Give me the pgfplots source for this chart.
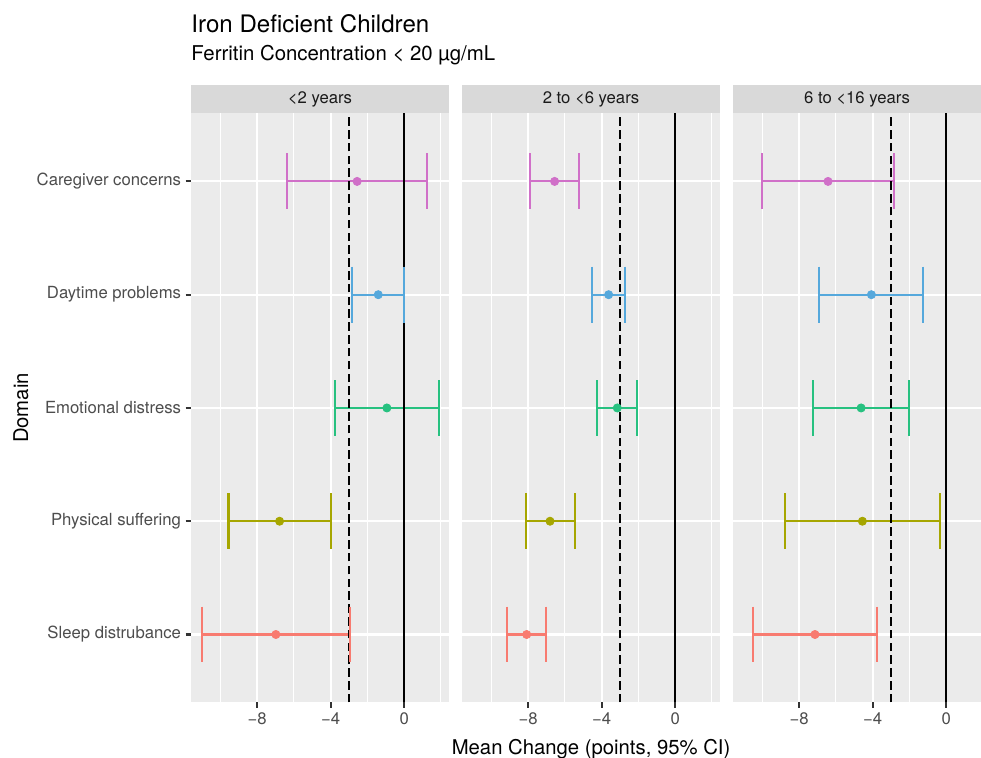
\documentclass[border=0pt]{standalone}
\usepackage{pgfplots}
\pgfplotsset{compat=1.18}
\usepackage{fontspec}
\setmainfont{TeX Gyre Heros}
\definecolor{panelbg}{HTML}{EBEBEB}
\definecolor{stripbg}{HTML}{D9D9D9}
\definecolor{striptext}{HTML}{1A1A1A}
\definecolor{ticklab}{HTML}{4D4D4D}
\definecolor{tickc}{HTML}{333333}
\definecolor{cSleep}{HTML}{F87B70}
\definecolor{cPhys}{HTML}{A6A600}
\definecolor{cEmo}{HTML}{27C180}
\definecolor{cDay}{HTML}{55A8DC}
\definecolor{cCare}{HTML}{D070C8}

% color, y, lower, mean, upper
\newcommand{\ebar}[5]{%
  \addplot[#1, line width=1.05pt, mark=|, mark size=14.4pt, mark options={solid, line width=1.05pt}] coordinates {(#3,#2) (#5,#2)};
  \addplot[#1, only marks, mark=*, mark size=2.1pt, mark options={draw=none, fill=#1}] coordinates {(#4,#2)};
}
\newcommand{\refl}{%
  \addplot[black, line width=1.05pt, dash pattern=on 4.4pt off 2.2pt] coordinates {(-3,0.4) (-3,5.6)};
  \addplot[black, line width=1.05pt] coordinates {(0,0.4) (0,5.6)};
}
\newcommand{\strip}[1]{%
  \fill[stripbg] (rel axis cs:0,1) rectangle ([yshift=14.42pt]rel axis cs:1,1);
  \node[font=\fontsize{8.6}{10}\selectfont, text=striptext, anchor=center] at ([yshift=7.21pt]rel axis cs:0.5,1) {#1};
}

\pgfplotsset{facet/.style={
  scale only axis, height=303.335pt, ymin=0.4, ymax=5.6, clip=false,
  axis background/.style={fill=panelbg},
  axis line style={draw=none},
  xtick={-8,-4,0}, xticklabels={−8,−4,0},
  minor xtick={-10,-6,-2,2},
  ytick={1,2,3,4,5},
  xmajorgrids, xminorgrids, ymajorgrids,
  major grid style={white, line width=1.07pt},
  minor grid style={white, line width=0.53pt},
  tick align=outside, major tick length=2.75pt, minor tick length=0pt,
  xtick pos=left, ytick pos=left,
  tick style={color=tickc, line width=1.07pt},
  tick label style={font=\fontsize{8.6}{10}\selectfont, text=ticklab},
  xticklabel style={inner sep=0pt, yshift=-2.2pt},
  yticklabel style={inner sep=0pt, xshift=-2.2pt},
}}

\begin{document}
\begin{tikzpicture}
\useasboundingbox (0,0) rectangle (505.215pt,390.37pt);
\fill[white] (0,0) rectangle (505.215pt,390.37pt);

% Panel 1
\begin{axis}[facet, at={(98.365pt,28.6pt)}, anchor=south west, width=132.87pt,
  xmin=-11.6, xmax=2.44,
  yticklabels={Sleep distrubance, Physical suffering, Emotional distress, Daytime problems, Caregiver concerns}]
\ebar{cSleep}{1}{-11.01}{-6.98}{-2.94}
\ebar{cPhys}{2}{-9.56}{-6.78}{-3.99}
\ebar{cEmo}{3}{-3.77}{-0.94}{1.87}
\ebar{cDay}{4}{-2.83}{-1.41}{-0.02}
\ebar{cCare}{5}{-6.35}{-2.56}{1.24}
\refl
\strip{<2 years}
\end{axis}

% Panel 2
\begin{axis}[facet, at={(237.93pt,28.6pt)}, anchor=south west, width=132.87pt,
  xmin=-11.6, xmax=2.44,
  yticklabels={}, ytick style={draw=none}]
\ebar{cSleep}{1}{-9.13}{-8.08}{-7.03}
\ebar{cPhys}{2}{-8.10}{-6.81}{-5.47}
\ebar{cEmo}{3}{-4.26}{-3.15}{-2.08}
\ebar{cDay}{4}{-4.51}{-3.62}{-2.73}
\ebar{cCare}{5}{-7.88}{-6.56}{-5.25}
\refl
\strip{2 to <6 years}
\end{axis}

% Panel 3 (cropped on the right as in the reference)
\begin{axis}[facet, at={(377.495pt,28.6pt)}, anchor=south west, width=127.72pt,
  xmin=-11.6, xmax=1.893,
  yticklabels={}, ytick style={draw=none}]
\ebar{cSleep}{1}{-10.53}{-7.14}{-3.75}
\ebar{cPhys}{2}{-8.79}{-4.56}{-0.36}
\ebar{cEmo}{3}{-7.24}{-4.63}{-2.04}
\ebar{cDay}{4}{-6.92}{-4.07}{-1.24}
\ebar{cCare}{5}{-10.02}{-6.43}{-2.83}
\refl
\strip{6 to <16 years}
\end{axis}

% Titles and axis titles
\node[anchor=base west, inner sep=0pt, font=\fontsize{12.4}{15}\selectfont] at (98.4pt,373.4pt) {Iron Deficient Children};
\node[anchor=base west, inner sep=0pt, font=\fontsize{10.5}{13}\selectfont] at (98.4pt,358.96pt) {Ferritin Concentration < 20 µg/mL};
\node[anchor=base, inner sep=0pt, font=\fontsize{10.45}{13}\selectfont] at (304.4pt,1.8pt) {Mean Change (points, 95\% CI)};
\node[anchor=center, inner sep=0pt, rotate=90, font=\fontsize{10.45}{13}\selectfont] at (10.8pt,180.25pt) {Domain};
\end{tikzpicture}
\end{document}
